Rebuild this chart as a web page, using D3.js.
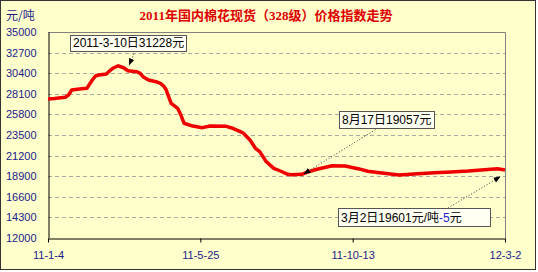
<!DOCTYPE html>
<html>
<head>
<meta charset="utf-8">
<script src="https://cdn.jsdelivr.net/npm/d3@7"></script>
<style>
  body { margin: 0; background: #fff; }
  svg { display: block; }
</style>
</head>
<body>
<div id="chart"></div>
<script>
// data
var dates = ["2011-01-04","2011-01-10","2011-01-20","2011-01-23","2011-01-26","2011-02-02","2011-02-09",
  "2011-02-11","2011-02-14","2011-02-17","2011-02-20","2011-02-27","2011-03-02","2011-03-05","2011-03-10",
  "2011-03-15","2011-03-19","2011-03-27","2011-03-30","2011-04-02","2011-04-07","2011-04-14","2011-04-18",
  "2011-04-21","2011-04-23","2011-04-25","2011-04-28","2011-05-04","2011-05-07","2011-05-10","2011-05-18",
  "2011-05-27","2011-06-03","2011-06-18","2011-06-24","2011-07-01","2011-07-04","2011-07-07","2011-07-10",
  "2011-07-15","2011-07-19","2011-07-25","2011-08-01","2011-08-07","2011-08-14","2011-08-17","2011-08-27",
  "2011-09-02","2011-09-10","2011-09-19","2011-09-24","2011-10-06","2011-10-18","2011-10-27","2011-11-07",
  "2011-11-25","2011-12-12","2011-12-28","2012-01-12","2012-01-28","2012-02-12","2012-02-24","2012-03-02"];
var prices = [27520,27580,27710,27970,28520,28640,28710,
  29080,29640,30090,30200,30310,30650,30950,31228,
  31010,30680,30570,30420,30010,29640,29450,29270,
  28970,28640,27970,27040,26480,25730,24810,24500,
  24320,24500,24470,24250,23870,23690,23310,22940,
  22020,21640,20520,19780,19480,19110,19057,19110,
  19400,19670,19930,20060,20040,19740,19450,19290,
  19030,19180,19290,19370,19480,19630,19740,19601];

var yTicks = [12000,14300,16600,18900,21200,23500,25800,28100,30400,32700,35000];
var xTickDates = ["2011-01-04","2011-05-25","2011-10-13","2012-03-02"];
var xTickLabels = ["11-1-4","11-5-25","11-10-13","12-3-2"];

var title = "2011年国内棉花现货（328级）价格指数走势";
var unit = "元/吨";

// callouts: point, box, and arrow tip offset
var notes = [
  {date: "2011-03-10", value: 31228, text: ["2011-3-10日31228元"], box: [70, 35, 116, 16], from: [135, 51], dx: 11, dy: -1},
  {date: "2011-08-17", value: 19057, text: ["8月17日19057元"], box: [339, 111, 95, 17], from: [378, 128], dx: 13, dy: -1},
  {date: "2012-03-02", value: 19601, text: ["3月2日19601元/吨", "-5", "元"], box: [338, 208, 152, 18], from: [448, 208], dx: -5, dy: 7}
];

var width = 538, height = 272;
var parse = d3.timeParse("%Y-%m-%d");
var data = dates.map(function(d, i) { return {date: parse(d), value: prices[i]}; });

var svg = d3.select("#chart").append("svg")
  .attr("width", width)
  .attr("height", height);

svg.append("rect")
  .attr("x", 0.5).attr("y", 0.5)
  .attr("width", width - 3).attr("height", height - 3)
  .attr("fill", "#ffffcc")
  .attr("stroke", "#333");

var plotLeft = 48, plotTop = 32, plotRight = 505, plotBottom = 238;

var x = d3.scaleTime()
  .domain([parse("2011-01-04"), parse("2012-03-02")])
  .range([plotLeft, plotRight]);
var y = d3.scaleLinear()
  .domain([12000, 35000])
  .range([plotBottom, plotTop]);

// grid
svg.append("g").selectAll("line")
  .data(yTicks.slice(1, -1))
  .enter().append("line")
  .attr("x1", plotLeft).attr("x2", plotRight)
  .attr("y1", function(d) { return Math.round(y(d)) + 0.5; })
  .attr("y2", function(d) { return Math.round(y(d)) + 0.5; })
  .attr("stroke", "#a8a8a0")
  .attr("stroke-dasharray", "4,3");

// frame: top/right grey, left/bottom black
svg.append("path")
  .attr("d", "M" + plotLeft + "," + (plotTop + 0.5) + "H" + (plotRight + 0.5) + "V" + plotBottom)
  .attr("fill", "none").attr("stroke", "#808080");

var xAxis = svg.append("g")
  .attr("transform", "translate(0," + (plotBottom + 0.5) + ")")
  .call(d3.axisBottom(x)
    .tickValues(xTickDates.map(parse))
    .tickFormat(function(d, i) { return xTickLabels[i]; })
    .tickSize(4).tickSizeOuter(0).tickPadding(9))
  .classed("axis", true);

var yAxis = svg.append("g")
  .attr("transform", "translate(" + (plotLeft + 0.5) + ",0)")
  .call(d3.axisLeft(y).tickValues(yTicks).tickSize(0).tickPadding(12).tickFormat(d3.format("d")))
  .classed("axis", true);

svg.selectAll(".axis path").attr("stroke", "#000");
svg.selectAll(".axis line").attr("stroke", "#000");
svg.selectAll(".axis text")
  .style("fill", "#1a1a8c")
  .style("font-family", "'Liberation Sans', Arial, sans-serif")
  .style("font-size", "11px");

// line
svg.append("path")
  .datum(data)
  .attr("fill", "none")
  .attr("stroke", "#ee0000")
  .attr("stroke-width", 3.5)
  .attr("stroke-linejoin", "round")
  .attr("d", d3.line()
    .x(function(d) { return x(d.date); })
    .y(function(d) { return y(d.value); }));

// title + unit
svg.append("text")
  .attr("x", 266).attr("y", 20)
  .attr("text-anchor", "middle")
  .style("font-family", "'Liberation Serif', 'Noto Sans CJK SC', serif")
  .style("font-weight", "bold")
  .style("font-size", "13px")
  .style("fill", "#dd0000")
  .text(title);

svg.append("text")
  .attr("x", 6).attr("y", 20)
  .style("font-family", "'Noto Sans CJK SC', sans-serif")
  .style("font-size", "12px")
  .style("fill", "#1a1a8c")
  .text(unit);

// callouts
svg.append("defs").append("marker")
  .attr("id", "tip")
  .attr("viewBox", "0 0 10 10")
  .attr("refX", 9).attr("refY", 5)
  .attr("markerWidth", 7).attr("markerHeight", 7)
  .attr("orient", "auto")
  .append("path").attr("d", "M0,1L10,5L0,9Z").attr("fill", "#000");

notes.forEach(function(n) {
  var tx = x(parse(n.date)) + n.dx, ty = y(n.value) + n.dy;
  svg.append("line")
    .attr("x1", n.from[0]).attr("y1", n.from[1])
    .attr("x2", tx).attr("y2", ty)
    .attr("stroke", "#333")
    .attr("stroke-dasharray", "1,2")
    .attr("marker-end", "url(#tip)");
  svg.append("rect")
    .attr("x", n.box[0] + 0.5).attr("y", n.box[1] + 0.5)
    .attr("width", n.box[2]).attr("height", n.box[3])
    .attr("fill", "#fffff2")
    .attr("stroke", "#555");
  var t = svg.append("text")
    .attr("x", n.box[0] + 3).attr("y", n.box[1] + n.box[3] - 4)
    .style("font-family", "'Liberation Sans', 'Noto Sans CJK SC', sans-serif")
    .style("font-size", "12px")
    .style("fill", "#000");
  n.text.forEach(function(s, i) {
    t.append("tspan").text(s).style("fill", i == 1 ? "#2222cc" : "#000");
  });
});
</script>
</body>
</html>
